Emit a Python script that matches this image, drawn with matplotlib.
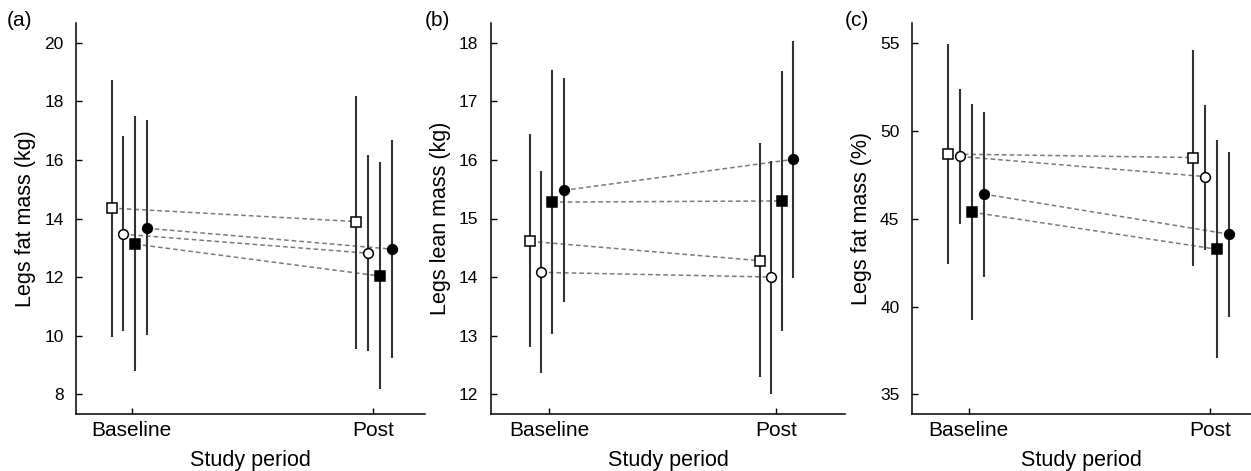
import matplotlib.pyplot as plt

plt.rcParams['font.family'] = ['Liberation Sans', 'DejaVu Sans']

periods = ["Baseline", "Post"]
# groups in drawing order: open square, open circle, filled square, filled circle
markers = ["s", "o", "s", "o"]
filled = [False, False, True, True]

# (a) legs fat mass (kg): each row = one group, [baseline, post]
fat_kg_mean = [[14.36, 13.90], [13.47, 12.82], [13.13, 12.04], [13.67, 12.96]]
fat_kg_low = [[9.97, 9.55], [10.16, 9.49], [8.80, 8.17], [10.03, 9.23]]
fat_kg_high = [[18.75, 18.20], [16.81, 16.17], [17.51, 15.95], [17.37, 16.69]]

# (b) legs lean mass (kg)
lean_kg_mean = [[14.61, 14.28], [14.08, 14.00], [15.28, 15.30], [15.48, 16.01]]
lean_kg_low = [[12.80, 12.29], [12.36, 12.01], [13.03, 13.08], [13.57, 13.99]]
lean_kg_high = [[16.44, 16.29], [15.82, 15.98], [17.53, 17.52], [17.40, 18.03]]

# (c) legs fat mass (%)
fat_pct_mean = [[48.68, 48.48], [48.54, 47.40], [45.37, 43.26], [46.40, 44.12]]
fat_pct_low = [[42.42, 42.33], [44.69, 43.22], [39.23, 37.09], [41.70, 39.39]]
fat_pct_high = [[54.96, 54.62], [52.38, 51.48], [51.52, 49.49], [51.10, 48.82]]

offsets = [-0.083, -0.035, 0.015, 0.064]

fig = plt.figure(figsize=(12.51, 4.71), dpi=100)

panels = [
    ("(a)", "Legs fat mass (kg)", fat_kg_mean, fat_kg_low, fat_kg_high,
     [8, 10, 12, 14, 16, 18, 20], (7.33, 20.68), (-0.23, 1.213)),
    ("(b)", "Legs lean mass (kg)", lean_kg_mean, lean_kg_low, lean_kg_high,
     [12, 13, 14, 15, 16, 17, 18], (11.66, 18.34), (-0.256, 1.305)),
    ("(c)", "Legs fat mass (%)", fat_pct_mean, fat_pct_low, fat_pct_high,
     [35, 40, 45, 50, 55], (33.88, 56.14), (-0.234, 1.169)),
]
rects = [
    [76 / 1251, 57 / 471, 349 / 1251, 391 / 471],
    [491 / 1251, 57 / 471, 354 / 1251, 391 / 471],
    [912 / 1251, 57 / 471, 339 / 1251, 391 / 471],
]
tag_x = [7, 425, 845]

for rect, tx, (tag, ylabel, mean, low, high, yticks, ylim, xlim) in zip(rects, tag_x, panels):
    ax = fig.add_axes(rect)
    for g in range(4):
        xs = [0 + offsets[g], 1 + offsets[g] + 0.012]
        ax.plot(xs, mean[g], ls=(0, (3, 2)), color="#7a7a7a", lw=1.1, zorder=1)
        ax.vlines(xs, low[g], high[g], color="#333333", lw=1.5, zorder=2)
        ax.plot(xs, mean[g], ls="none", marker=markers[g],
                ms=7.2 if markers[g] == "s" else 7,
                mfc="black" if filled[g] else "white",
                mec="black", mew=1.1, zorder=3)
    ax.set_xlim(*xlim)
    ax.set_ylim(*ylim)
    ax.set_xticks([0, 1])
    ax.set_xticklabels(periods, fontsize=15)
    ax.set_yticks(yticks)
    ax.tick_params(direction="in", length=4, width=1)
    ax.tick_params(axis="y", pad=9, labelsize=12.5)
    ax.tick_params(axis="x", pad=5)
    for s in ["top", "right"]:
        ax.spines[s].set_visible(False)
    for s in ["left", "bottom"]:
        ax.spines[s].set_linewidth(1.1)
    ax.set_xlabel("Study period", fontsize=15.5, labelpad=7.5)
    ax.set_ylabel(ylabel, fontsize=15.5, labelpad=6)
    fig.text(tx / 1251, 1 - 21 / 471, tag, fontsize=15, ha="left", va="center")

fig.savefig("out.png", dpi=100)
